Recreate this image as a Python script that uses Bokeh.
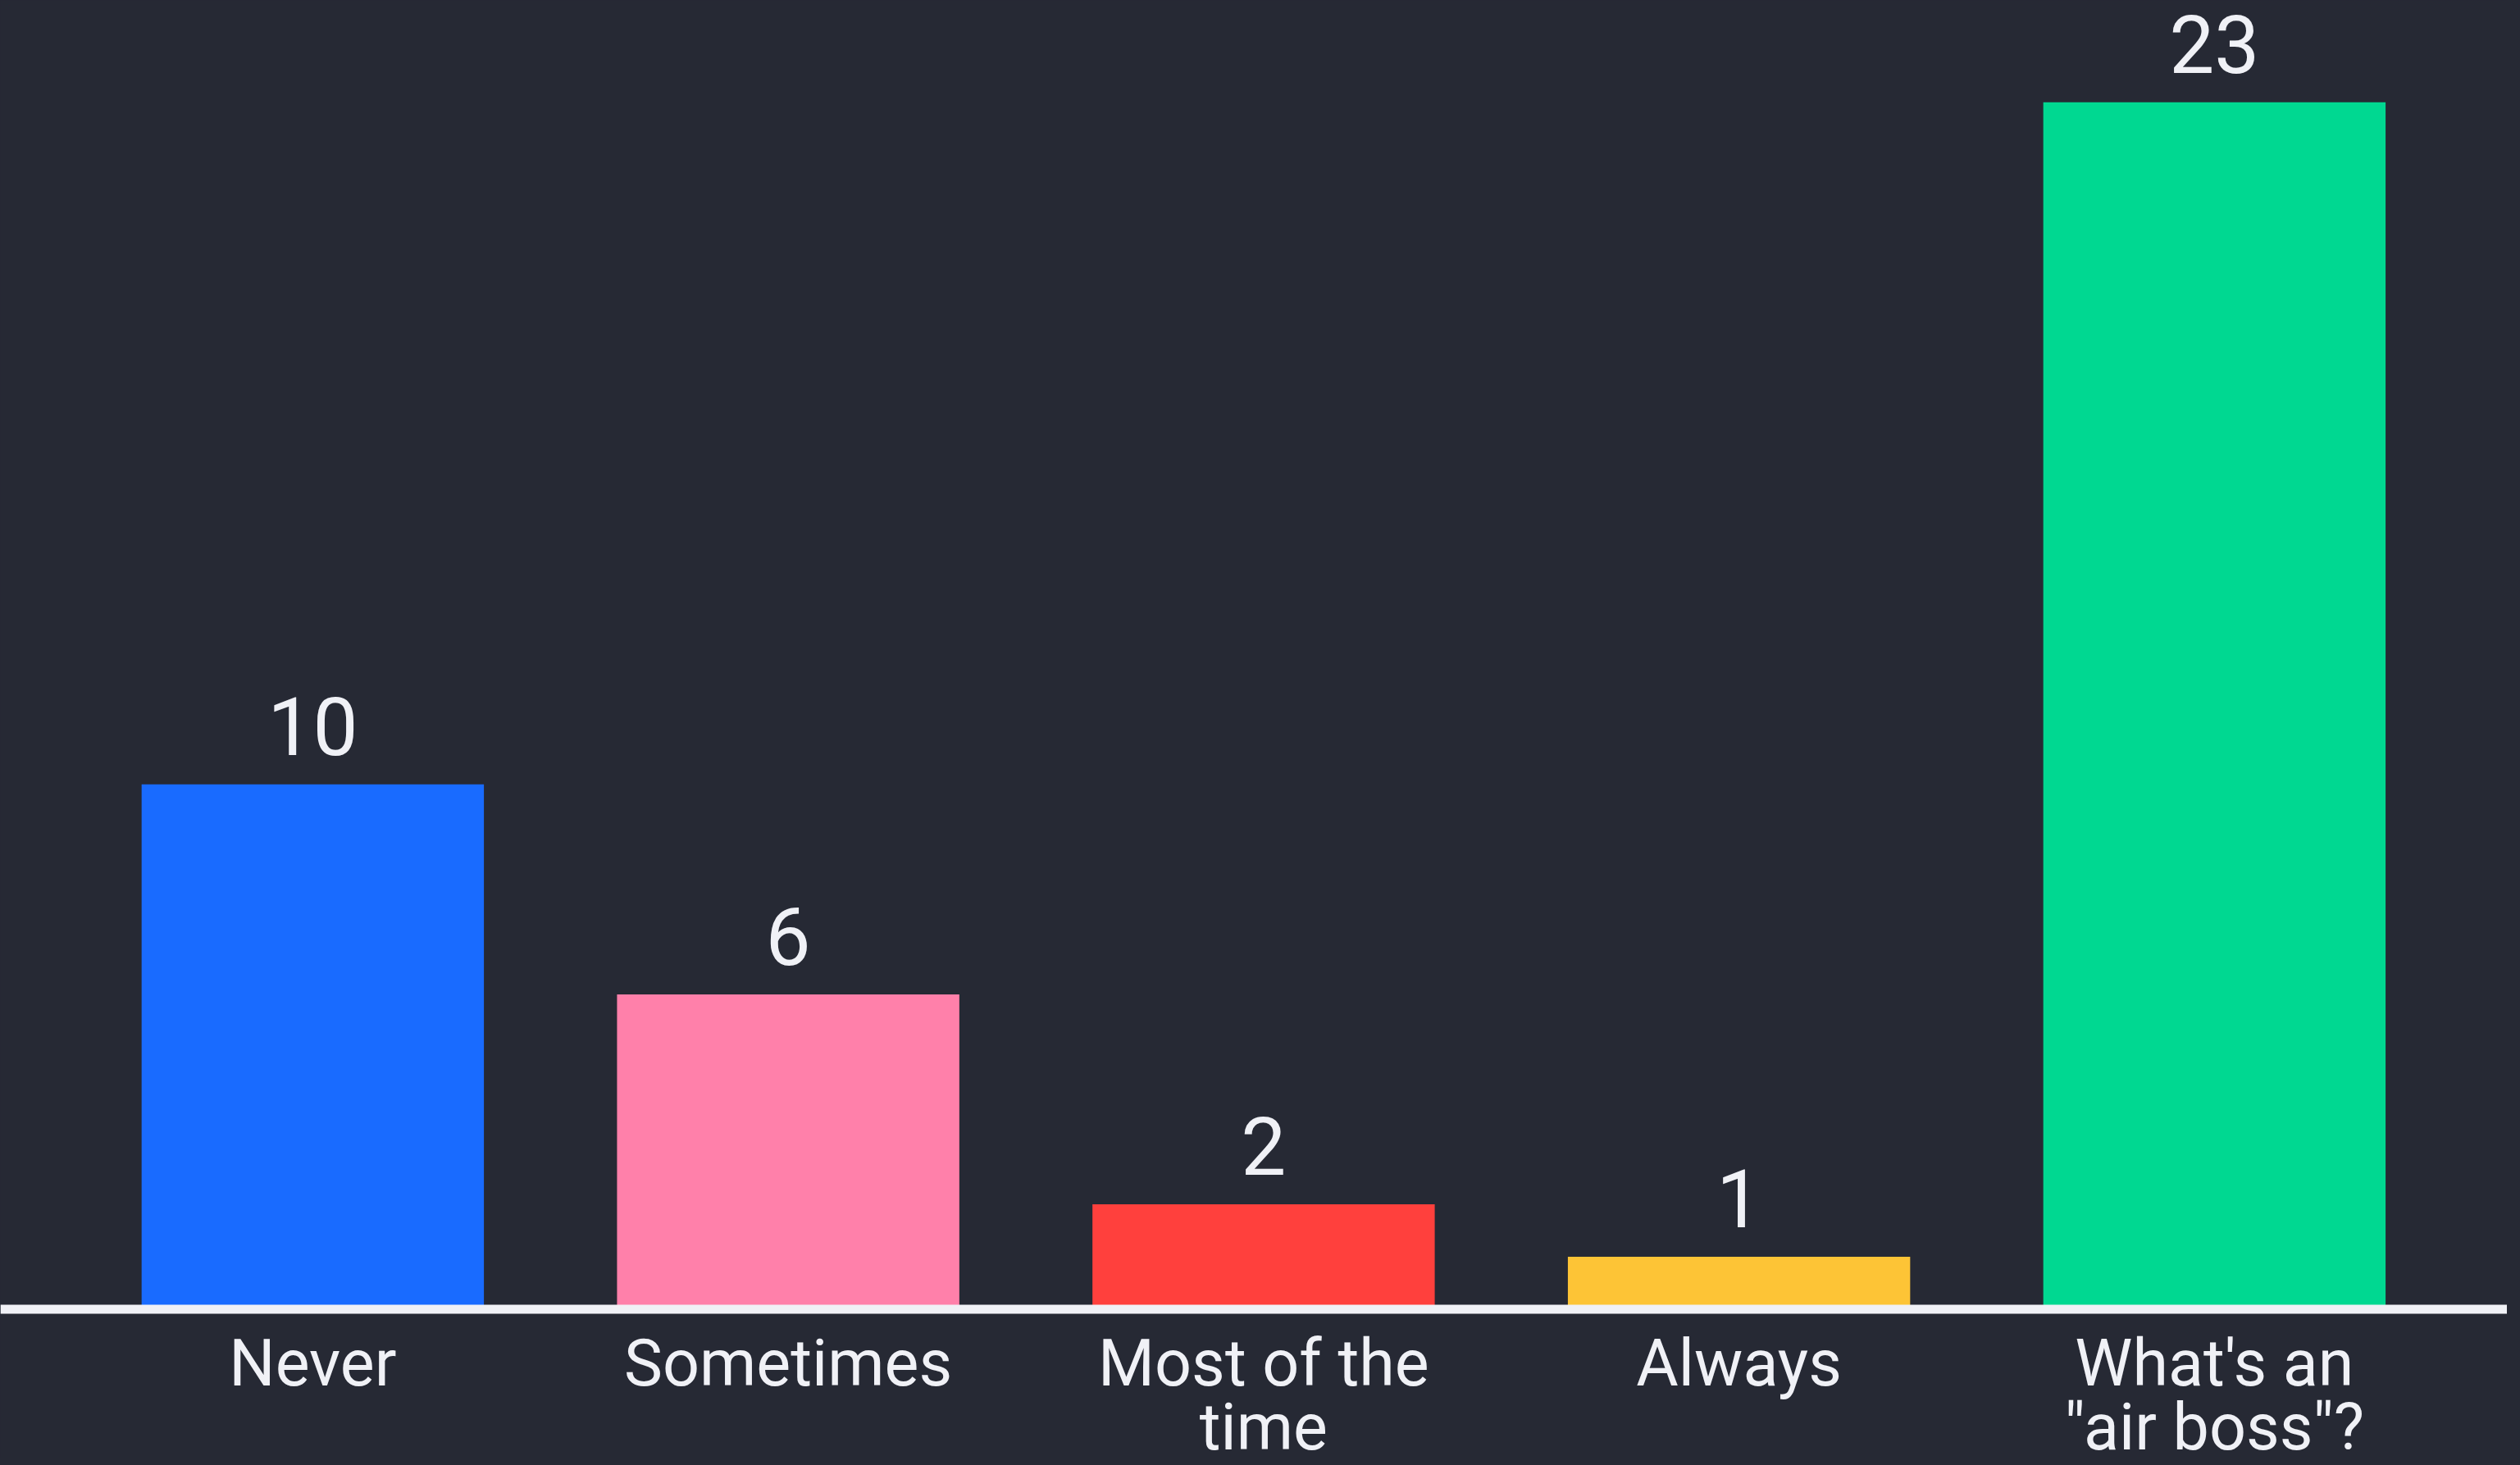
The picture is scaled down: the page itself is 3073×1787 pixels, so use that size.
from bokeh.plotting import figure
from bokeh.models import ColumnDataSource, LabelSet, Range1d, Span
from bokeh.core.properties import value
from bokeh.embed import file_html
from bokeh.resources import INLINE

categories = ["Never", "Sometimes", "Most of the\ntime", "Always", "What's an\n\"air boss\"?"]
values = [10, 6, 2, 1, 23]
colors = ["#196BFF", "#FF80AA", "#FF403D", "#FDC436", "#00D891"]

BG = "#262934"
FG = "#F0F1F6"
FONT = "Roboto"

xs = list(range(len(categories)))
line1 = [c.split("\n")[0] for c in categories]
line2 = [c.split("\n")[1] if "\n" in c else "" for c in categories]
src = ColumnDataSource(dict(x=xs, top=values, color=colors,
                            label=[str(v) for v in values], l1=line1, l2=line2,
                            zero=[0] * len(xs)))

p = figure(width=3057, height=1779, output_backend="svg", toolbar_location=None,
           x_range=Range1d(-0.657, 4.616), y_range=Range1d(-2.851, 24.94),
           background_fill_color=BG, border_fill_color=BG, outline_line_color=None,
           min_border_left=0, min_border_right=0, min_border_top=0, min_border_bottom=0)

p.vbar(x="x", top="top", bottom=0, width=0.72, color="color", line_color=None, source=src)

p.add_layout(Span(location=0, dimension="width", line_color=FG, line_width=11))

vals = LabelSet(x="x", y="top", text="label", source=src, text_align="center",
                text_baseline="alphabetic", y_offset=36, text_color=FG,
                text_font=value(FONT), text_font_size="98px")
p.add_layout(vals)

for field, off in (("l1", -20), ("l2", -98)):
    p.add_layout(LabelSet(x="x", y="zero", text=field, source=src, text_align="center",
                          text_baseline="top", y_offset=off, text_color=FG,
                          text_font=value(FONT), text_font_size="79px"))

p.xaxis.visible = False
p.yaxis.visible = False
p.grid.visible = False

html = file_html(p, INLINE)
html = html.replace("<body>", '<body style="background-color:%s;">' % BG, 1)
html = html.replace("<html", '<html style="background-color:%s;"' % BG, 1)
open("out.html", "w").write(html)
